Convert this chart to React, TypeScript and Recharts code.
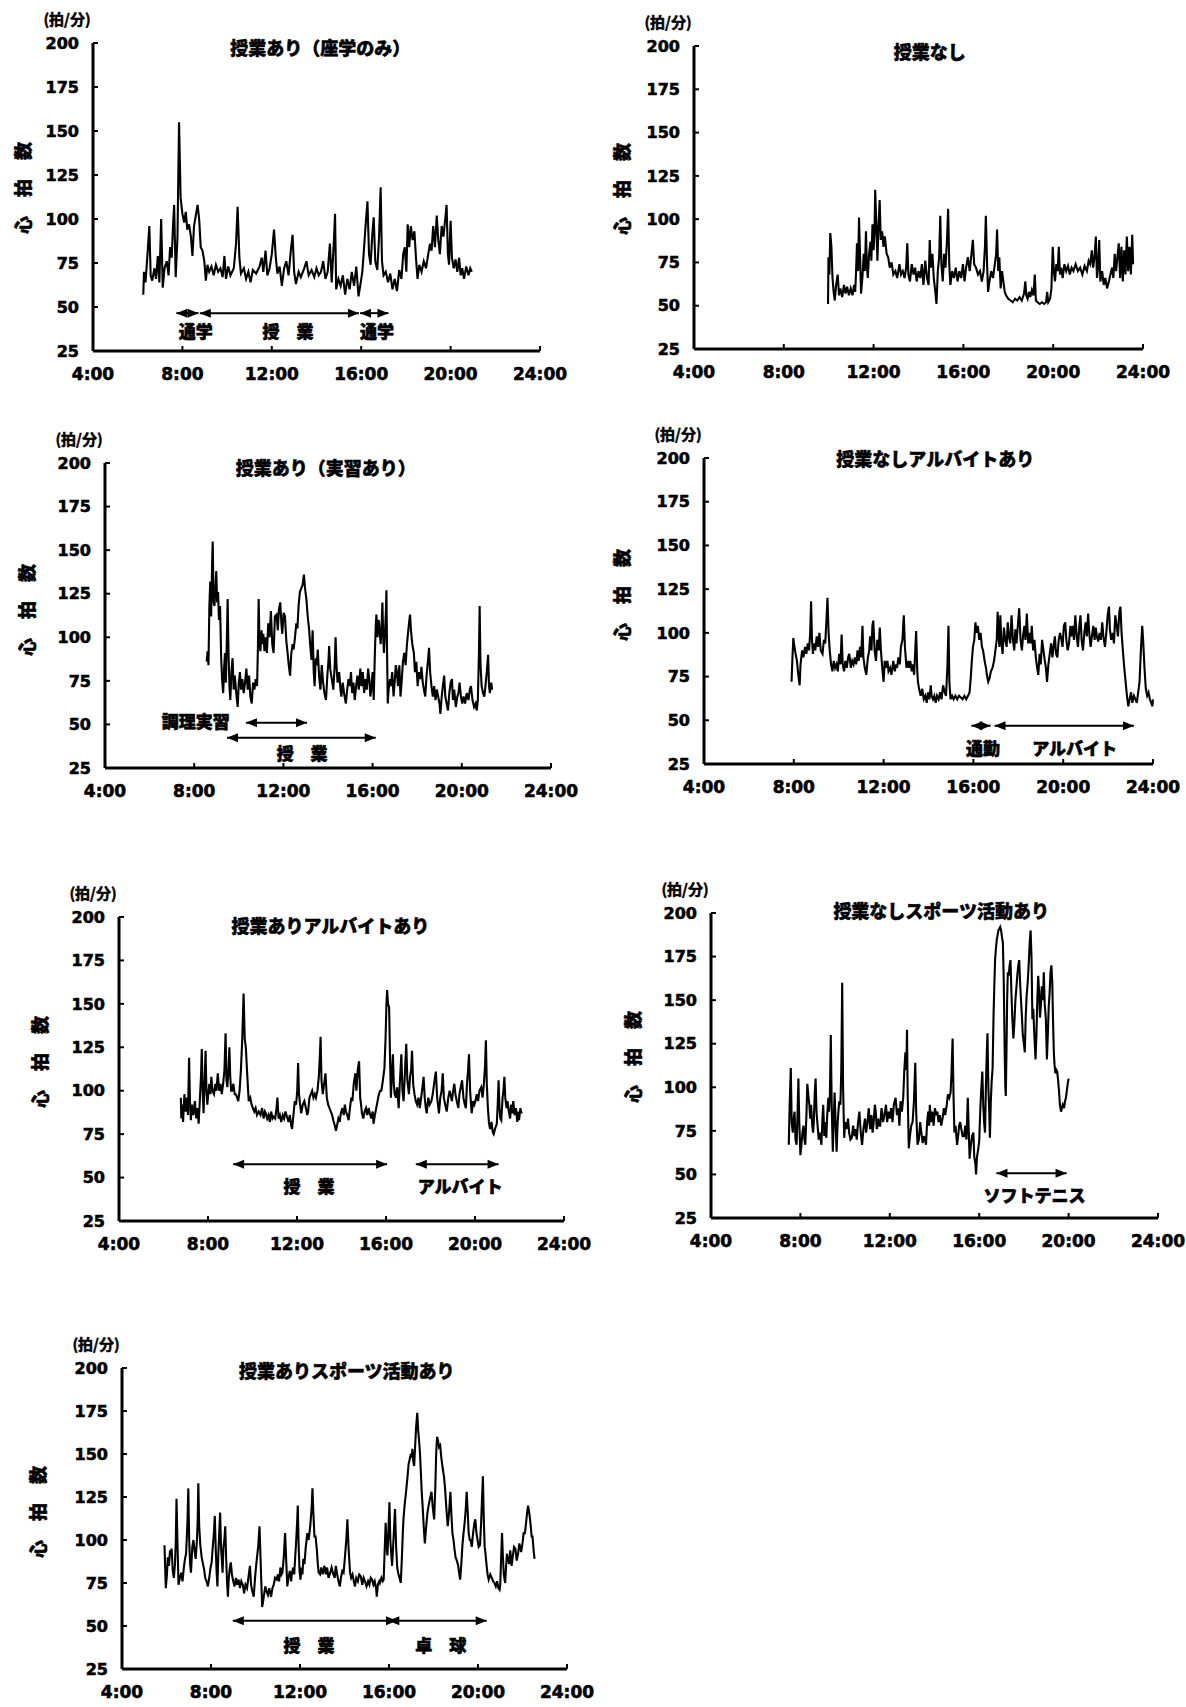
import React from 'react';
import { LineChart, Line, XAxis, YAxis, ReferenceLine, ReferenceDot } from 'recharts';

type Pt = [number, number];
type Span = [number, number, number];
type Note = [number, number, string];

const xTicks = [4, 8, 12, 16, 20, 24];
const yTicks = [25, 50, 75, 100, 125, 150, 175, 200];

const panelTitles = [
  '授業あり（座学のみ）',
  '授業なし',
  '授業あり（実習あり）',
  '授業なしアルバイトあり',
  '授業ありアルバイトあり',
  '授業なしスポーツ活動あり',
  '授業ありスポーツ活動あり',
];

// heart rate readings: [hour of day, beats per minute]
const p1Hr: Pt[] = [
  [6.25,57],[6.28,70],[6.35,64],[6.45,82],[6.52,96],[6.58,68],[6.65,65],[6.75,72],[6.82,66],[6.9,79],[6.97,64],[7.05,100],[7.12,61],[7.2,72],[7.3,76],[7.38,68],[7.45,84],[7.52,78],[7.58,96],[7.63,108],[7.7,67],[7.78,90],[7.85,155],[7.92,112],[8.0,103],[8.08,98],[8.15,104],[8.22,94],[8.3,97],[8.38,90],[8.45,79],[8.52,96],[8.6,102],[8.68,108],[8.75,100],[8.82,84],[8.9,82],[8.98,76],[9.05,65],[9.12,74],[9.2,70],[9.3,73],[9.4,68],[9.5,74],[9.6,70],[9.7,72],[9.8,67],[9.88,79],[9.95,66],[10.05,73],[10.15,68],[10.3,72],[10.4,86],[10.47,107],[10.55,78],[10.62,69],[10.75,72],[10.85,66],[10.95,70],[11.05,64],[11.15,71],[11.3,69],[11.45,73],[11.55,78],[11.62,70],[11.72,82],[11.8,68],[11.9,72],[12.0,80],[12.1,94],[12.18,78],[12.25,69],[12.35,73],[12.45,62],[12.55,72],[12.65,76],[12.75,68],[12.85,82],[12.93,91],[13.0,70],[13.08,63],[13.2,70],[13.3,67],[13.45,72],[13.55,76],[13.65,68],[13.78,71],[13.9,67],[14.0,72],[14.1,68],[14.2,70],[14.3,76],[14.4,66],[14.5,70],[14.6,86],[14.68,64],[14.78,88],[14.83,103],[14.88,60],[14.98,66],[15.08,62],[15.18,68],[15.28,57],[15.38,66],[15.48,60],[15.58,70],[15.68,62],[15.78,73],[15.88,56],[15.98,64],[16.05,70],[16.12,82],[16.2,97],[16.28,110],[16.35,80],[16.42,74],[16.5,92],[16.56,101],[16.63,76],[16.72,71],[16.8,90],[16.87,118],[16.93,76],[17.0,68],[17.1,70],[17.2,64],[17.3,69],[17.4,60],[17.5,66],[17.6,59],[17.7,71],[17.8,66],[17.88,80],[17.95,84],[18.02,70],[18.08,97],[18.15,84],[18.22,96],[18.3,88],[18.38,93],[18.45,78],[18.52,66],[18.6,74],[18.7,70],[18.8,76],[18.9,72],[19.0,80],[19.08,86],[19.15,82],[19.22,96],[19.3,84],[19.38,102],[19.45,88],[19.52,80],[19.6,96],[19.68,90],[19.76,100],[19.82,108],[19.88,80],[19.93,74],[20.0,99],[20.06,78],[20.14,72],[20.22,77],[20.3,70],[20.38,78],[20.45,68],[20.52,72],[20.6,66],[20.7,73],[20.8,68],[20.88,72],[20.95,70],
];

const p2Hr: Pt[] = [
  [9.97,51],[9.99,78],[10.03,68],[10.07,92],[10.12,84],[10.17,66],[10.22,58],[10.27,53],[10.33,62],[10.4,68],[10.46,56],[10.52,60],[10.6,55],[10.68,62],[10.75,57],[10.82,61],[10.9,56],[10.98,60],[11.06,56],[11.13,62],[11.18,58],[11.22,70],[11.26,86],[11.31,70],[11.35,101],[11.4,78],[11.44,57],[11.5,66],[11.56,80],[11.61,70],[11.66,93],[11.7,74],[11.74,66],[11.8,80],[11.86,87],[11.9,76],[11.95,97],[12.0,82],[12.04,92],[12.07,117],[12.12,98],[12.17,76],[12.22,96],[12.27,111],[12.32,88],[12.38,93],[12.44,84],[12.5,90],[12.58,80],[12.65,78],[12.72,72],[12.8,75],[12.88,68],[12.97,70],[13.05,66],[13.15,74],[13.22,68],[13.3,70],[13.38,66],[13.45,72],[13.5,86],[13.55,68],[13.62,64],[13.7,74],[13.78,68],[13.85,72],[13.92,64],[14.0,70],[14.08,66],[14.15,74],[14.22,62],[14.3,76],[14.38,66],[14.45,62],[14.5,88],[14.55,72],[14.62,80],[14.68,66],[14.75,58],[14.8,51],[14.86,70],[14.92,78],[14.97,102],[15.02,74],[15.08,64],[15.14,80],[15.2,72],[15.27,88],[15.32,106],[15.37,74],[15.42,62],[15.5,70],[15.58,66],[15.66,72],[15.74,64],[15.82,70],[15.9,66],[15.98,74],[16.05,64],[16.12,72],[16.2,78],[16.28,70],[16.36,80],[16.42,88],[16.48,74],[16.56,72],[16.65,68],[16.74,70],[16.82,64],[16.9,70],[16.96,84],[17.0,102],[17.05,76],[17.1,58],[17.16,64],[17.24,70],[17.32,66],[17.4,74],[17.46,80],[17.5,94],[17.55,70],[17.6,78],[17.66,60],[17.72,70],[17.78,64],[17.84,58],[17.9,56],[18.0,54],[18.1,53],[18.2,52],[18.3,54],[18.4,53],[18.5,55],[18.6,53],[18.7,57],[18.76,64],[18.8,56],[18.86,54],[18.92,58],[18.98,55],[19.05,59],[19.12,56],[19.18,68],[19.23,53],[19.3,52],[19.4,51],[19.5,52],[19.6,51],[19.68,52],[19.73,58],[19.78,52],[19.86,54],[19.92,60],[19.98,84],[20.03,70],[20.08,64],[20.14,74],[20.2,70],[20.25,84],[20.3,68],[20.36,72],[20.42,66],[20.5,74],[20.58,70],[20.66,73],[20.74,68],[20.82,72],[20.9,70],[21.0,74],[21.1,70],[21.2,72],[21.3,68],[21.4,73],[21.5,70],[21.58,76],[21.65,74],[21.72,82],[21.78,72],[21.84,78],[21.9,90],[21.95,66],[22.0,72],[22.05,88],[22.1,64],[22.18,70],[22.25,62],[22.32,66],[22.4,60],[22.48,64],[22.55,68],[22.62,72],[22.68,66],[22.74,80],[22.8,70],[22.86,78],[22.92,86],[22.98,66],[23.04,84],[23.1,64],[23.16,82],[23.22,68],[23.28,90],[23.34,70],[23.4,84],[23.46,68],[23.52,91],[23.56,74],
];

const p3Hr: Pt[] = [
  [8.56,86],[8.6,92],[8.64,84],[8.68,118],[8.72,132],[8.76,112],[8.8,140],[8.83,155],[8.87,120],[8.91,118],[8.95,128],[8.99,138],[9.03,120],[9.07,126],[9.11,110],[9.16,118],[9.21,88],[9.25,76],[9.3,68],[9.34,82],[9.38,91],[9.42,74],[9.46,96],[9.5,122],[9.54,90],[9.58,72],[9.62,64],[9.67,80],[9.72,88],[9.77,70],[9.82,78],[9.86,72],[9.9,66],[9.95,60],[10.0,74],[10.05,80],[10.1,70],[10.16,76],[10.22,68],[10.28,74],[10.34,82],[10.4,70],[10.46,78],[10.52,66],[10.58,62],[10.64,74],[10.7,70],[10.76,76],[10.82,72],[10.86,96],[10.89,122],[10.93,96],[10.97,92],[11.02,104],[11.06,96],[11.1,102],[11.15,92],[11.2,100],[11.26,91],[11.32,108],[11.38,100],[11.44,115],[11.5,96],[11.56,91],[11.62,112],[11.69,113],[11.75,104],[11.8,116],[11.86,120],[11.91,108],[11.95,102],[12.01,114],[12.07,112],[12.13,98],[12.18,92],[12.24,84],[12.3,78],[12.35,90],[12.41,96],[12.46,93],[12.52,100],[12.58,108],[12.63,105],[12.68,118],[12.74,126],[12.8,128],[12.86,130],[12.92,136],[12.97,128],[13.03,122],[13.09,112],[13.15,105],[13.2,96],[13.26,87],[13.31,104],[13.36,80],[13.4,72],[13.45,88],[13.5,84],[13.54,93],[13.6,78],[13.66,70],[13.72,84],[13.78,74],[13.84,68],[13.91,64],[13.97,78],[14.02,86],[14.05,95],[14.1,82],[14.17,76],[14.24,70],[14.3,84],[14.34,100],[14.38,84],[14.43,74],[14.5,80],[14.56,70],[14.6,66],[14.66,74],[14.72,68],[14.8,62],[14.86,70],[14.92,76],[14.98,72],[15.03,80],[15.08,68],[15.14,74],[15.2,64],[15.26,72],[15.32,78],[15.38,70],[15.45,82],[15.5,72],[15.56,80],[15.62,68],[15.68,76],[15.74,70],[15.8,82],[15.85,76],[15.9,66],[15.95,72],[16.0,80],[16.05,64],[16.1,90],[16.14,106],[16.17,113],[16.22,100],[16.27,110],[16.31,105],[16.36,96],[16.4,106],[16.44,120],[16.48,98],[16.51,91],[16.56,104],[16.6,116],[16.62,127],[16.65,90],[16.68,62],[16.72,70],[16.78,76],[16.82,72],[16.88,80],[16.94,66],[17.0,76],[17.04,84],[17.08,81],[17.14,72],[17.2,84],[17.25,66],[17.3,74],[17.36,86],[17.42,91],[17.48,84],[17.54,96],[17.6,104],[17.65,110],[17.68,113],[17.72,104],[17.78,96],[17.85,91],[17.9,80],[17.96,86],[18.02,72],[18.08,80],[18.14,76],[18.19,83],[18.25,74],[18.3,70],[18.36,66],[18.42,78],[18.48,86],[18.53,94],[18.58,80],[18.64,72],[18.7,66],[18.76,72],[18.82,64],[18.88,70],[18.94,66],[19.0,62],[19.04,56],[19.1,66],[19.15,72],[19.21,78],[19.26,66],[19.32,62],[19.38,58],[19.44,68],[19.5,74],[19.56,76],[19.6,64],[19.66,70],[19.73,60],[19.8,66],[19.85,68],[19.9,74],[19.96,66],[20.02,62],[20.08,66],[20.15,62],[20.22,68],[20.3,64],[20.36,70],[20.41,72],[20.48,64],[20.55,60],[20.62,62],[20.67,58],[20.72,64],[20.77,92],[20.8,118],[20.84,84],[20.89,72],[20.95,68],[21.01,66],[21.06,72],[21.12,80],[21.18,90],[21.22,72],[21.26,68],[21.32,74],[21.36,70],
];

const p4Hr: Pt[] = [
  [7.9,72],[7.94,86],[7.98,97],[8.03,92],[8.08,88],[8.14,84],[8.2,76],[8.26,70],[8.3,82],[8.37,90],[8.43,86],[8.5,92],[8.56,88],[8.62,94],[8.68,90],[8.73,100],[8.77,118],[8.81,96],[8.85,88],[8.9,94],[8.96,90],[9.02,98],[9.08,92],[9.14,100],[9.2,90],[9.28,88],[9.34,96],[9.4,94],[9.45,106],[9.5,120],[9.55,100],[9.6,90],[9.66,82],[9.72,78],[9.78,84],[9.84,80],[9.9,82],[9.96,78],[10.02,88],[10.08,82],[10.13,99],[10.18,82],[10.24,78],[10.3,84],[10.36,80],[10.42,86],[10.47,88],[10.54,80],[10.6,84],[10.66,82],[10.72,86],[10.78,82],[10.84,90],[10.89,84],[10.95,92],[11.0,86],[11.06,104],[11.1,86],[11.16,80],[11.23,76],[11.3,86],[11.36,90],[11.4,98],[11.46,90],[11.5,104],[11.54,107],[11.6,90],[11.66,84],[11.72,96],[11.78,90],[11.83,103],[11.88,90],[11.94,80],[12.0,72],[12.05,84],[12.1,80],[12.17,84],[12.22,78],[12.29,80],[12.35,76],[12.43,84],[12.5,78],[12.56,82],[12.6,80],[12.66,86],[12.72,82],[12.77,92],[12.84,96],[12.9,110],[12.95,92],[13.02,80],[13.08,84],[13.14,80],[13.19,84],[13.25,78],[13.3,82],[13.36,76],[13.41,90],[13.45,101],[13.5,78],[13.53,72],[13.58,68],[13.65,64],[13.72,68],[13.79,62],[13.86,64],[13.92,60],[13.98,66],[14.04,62],[14.1,70],[14.14,64],[14.2,62],[14.26,64],[14.32,60],[14.38,64],[14.45,62],[14.52,66],[14.58,62],[14.65,70],[14.72,66],[14.78,64],[14.84,80],[14.89,104],[14.93,72],[14.98,62],[15.05,64],[15.12,62],[15.2,64],[15.28,62],[15.36,64],[15.44,63],[15.52,62],[15.6,64],[15.68,62],[15.76,64],[15.83,66],[15.88,74],[15.93,84],[15.98,92],[16.04,96],[16.09,106],[16.14,100],[16.2,104],[16.26,96],[16.32,100],[16.38,92],[16.43,90],[16.5,84],[16.56,80],[16.6,76],[16.66,72],[16.72,74],[16.78,78],[16.85,80],[16.92,84],[16.98,90],[17.04,96],[17.08,112],[17.12,100],[17.16,92],[17.2,110],[17.24,96],[17.3,88],[17.36,103],[17.42,96],[17.48,92],[17.53,106],[17.58,98],[17.64,94],[17.7,110],[17.76,96],[17.82,90],[17.87,102],[17.92,94],[17.98,104],[18.04,114],[18.1,96],[18.16,90],[18.21,98],[18.27,104],[18.32,96],[18.38,111],[18.44,94],[18.5,100],[18.55,94],[18.6,104],[18.66,90],[18.72,96],[18.78,86],[18.84,80],[18.89,76],[18.95,88],[19.0,82],[19.06,96],[19.12,90],[19.18,84],[19.23,80],[19.28,72],[19.34,82],[19.4,88],[19.46,94],[19.52,86],[19.57,92],[19.63,98],[19.68,88],[19.74,86],[19.8,96],[19.86,100],[19.91,97],[19.97,92],[20.03,104],[20.09,106],[20.14,96],[20.2,90],[20.26,94],[20.32,104],[20.38,98],[20.43,104],[20.48,96],[20.54,110],[20.6,98],[20.66,92],[20.72,104],[20.77,110],[20.82,96],[20.88,90],[20.94,100],[21.0,106],[21.05,98],[21.11,111],[21.16,100],[21.22,92],[21.28,98],[21.34,104],[21.4,96],[21.45,103],[21.5,98],[21.56,95],[21.62,100],[21.68,96],[21.74,106],[21.79,98],[21.86,92],[21.92,100],[21.98,110],[22.04,115],[22.08,102],[22.14,96],[22.21,100],[22.26,94],[22.32,110],[22.38,104],[22.44,98],[22.5,112],[22.55,115],[22.6,100],[22.67,88],[22.72,80],[22.78,72],[22.84,64],[22.9,58],[22.96,62],[23.02,66],[23.08,60],[23.15,64],[23.22,62],[23.28,60],[23.34,66],[23.4,72],[23.46,90],[23.52,104],[23.56,96],[23.62,80],[23.68,68],[23.74,64],[23.8,66],[23.86,62],[23.92,60],[23.97,58],[24.0,62],
];

const p5Hr: Pt[] = [
  [6.78,96],[6.8,84],[6.84,92],[6.88,82],[6.94,98],[7.0,88],[7.06,96],[7.1,86],[7.15,119],[7.19,94],[7.23,83],[7.28,92],[7.34,86],[7.41,94],[7.47,84],[7.52,90],[7.58,81],[7.64,96],[7.69,110],[7.72,124],[7.76,100],[7.8,87],[7.85,106],[7.89,123],[7.93,100],[7.97,92],[8.01,98],[8.06,104],[8.11,98],[8.15,108],[8.2,100],[8.27,98],[8.33,104],[8.38,100],[8.44,110],[8.5,100],[8.56,104],[8.62,98],[8.68,104],[8.74,112],[8.79,133],[8.83,106],[8.87,102],[8.92,112],[8.96,125],[9.0,108],[9.04,100],[9.08,100],[9.14,104],[9.2,98],[9.25,98],[9.31,96],[9.36,94],[9.42,100],[9.48,112],[9.54,130],[9.6,156],[9.65,130],[9.7,125],[9.76,110],[9.83,94],[9.9,96],[9.96,92],[10.02,90],[10.08,88],[10.14,90],[10.2,86],[10.28,88],[10.36,86],[10.43,90],[10.5,84],[10.56,88],[10.6,87],[10.66,84],[10.72,86],[10.78,82],[10.84,88],[10.9,84],[10.95,85],[11.02,84],[11.08,90],[11.12,96],[11.17,84],[11.23,86],[11.29,82],[11.36,86],[11.42,84],[11.48,88],[11.55,85],[11.62,82],[11.68,86],[11.74,80],[11.78,78],[11.84,86],[11.9,94],[11.96,92],[12.01,100],[12.05,116],[12.09,98],[12.14,92],[12.19,87],[12.26,92],[12.33,94],[12.4,90],[12.46,86],[12.5,88],[12.56,96],[12.62,98],[12.68,100],[12.74,96],[12.8,98],[12.85,96],[12.92,100],[12.98,108],[13.02,118],[13.06,131],[13.1,106],[13.16,98],[13.22,104],[13.28,110],[13.34,96],[13.4,92],[13.46,90],[13.52,88],[13.58,86],[13.63,83],[13.7,80],[13.75,77],[13.8,80],[13.86,84],[13.92,82],[13.97,87],[14.04,90],[14.1,86],[14.15,92],[14.2,88],[14.26,86],[14.32,83],[14.38,90],[14.44,96],[14.49,94],[14.55,104],[14.62,110],[14.67,100],[14.73,112],[14.79,117],[14.84,96],[14.88,92],[14.92,87],[14.98,84],[15.04,88],[15.1,90],[15.16,86],[15.22,90],[15.27,87],[15.34,84],[15.4,88],[15.44,81],[15.5,86],[15.56,90],[15.62,94],[15.68,98],[15.74,100],[15.79,100],[15.84,104],[15.88,108],[15.93,113],[15.98,130],[16.02,150],[16.05,158],[16.09,150],[16.14,148],[16.18,120],[16.22,96],[16.26,108],[16.31,121],[16.35,104],[16.39,98],[16.45,96],[16.5,102],[16.57,90],[16.62,104],[16.69,121],[16.74,100],[16.79,94],[16.85,110],[16.91,127],[16.96,106],[17.03,98],[17.08,108],[17.13,112],[17.17,123],[17.22,104],[17.28,98],[17.34,94],[17.4,92],[17.46,96],[17.52,90],[17.58,96],[17.64,102],[17.69,108],[17.74,96],[17.79,90],[17.83,87],[17.9,96],[17.96,92],[18.04,94],[18.1,98],[18.16,104],[18.24,111],[18.3,96],[18.38,87],[18.44,96],[18.5,100],[18.55,110],[18.6,96],[18.66,92],[18.73,88],[18.8,96],[18.86,100],[18.9,98],[18.96,94],[19.02,100],[19.07,104],[19.12,98],[19.18,94],[19.25,90],[19.3,98],[19.36,102],[19.42,106],[19.48,96],[19.54,92],[19.59,90],[19.64,104],[19.69,112],[19.73,121],[19.78,100],[19.85,87],[19.92,94],[19.97,92],[20.02,94],[20.08,98],[20.14,94],[20.2,100],[20.28,102],[20.34,96],[20.4,104],[20.45,114],[20.49,129],[20.53,104],[20.58,90],[20.63,81],[20.68,78],[20.74,82],[20.8,76],[20.84,75],[20.9,78],[20.98,81],[21.02,92],[21.06,106],[21.1,90],[21.14,84],[21.18,83],[21.24,96],[21.28,100],[21.32,108],[21.36,96],[21.42,90],[21.46,94],[21.52,88],[21.58,84],[21.62,92],[21.67,87],[21.72,94],[21.78,86],[21.84,90],[21.9,82],[21.94,88],[21.98,83],[22.04,90],[22.08,87],[22.1,88],
];

const p6Hr: Pt[] = [
  [7.48,67],[7.52,90],[7.57,111],[7.61,80],[7.66,74],[7.7,82],[7.74,86],[7.78,70],[7.83,67],[7.87,84],[7.91,105],[7.95,80],[8.0,61],[8.04,66],[8.09,74],[8.14,78],[8.18,70],[8.22,67],[8.27,84],[8.31,102],[8.35,96],[8.4,90],[8.44,82],[8.48,90],[8.53,78],[8.57,74],[8.6,80],[8.64,96],[8.68,105],[8.72,86],[8.77,78],[8.82,70],[8.87,74],[8.94,67],[8.98,80],[9.02,90],[9.07,72],[9.12,80],[9.16,71],[9.2,84],[9.25,94],[9.28,86],[9.32,96],[9.36,130],[9.4,90],[9.45,63],[9.49,80],[9.53,97],[9.58,78],[9.62,63],[9.66,78],[9.7,86],[9.74,92],[9.79,90],[9.83,110],[9.87,160],[9.91,100],[9.96,71],[10.0,80],[10.06,76],[10.13,82],[10.18,74],[10.24,70],[10.3,71],[10.36,78],[10.42,72],[10.47,76],[10.52,70],[10.58,80],[10.64,86],[10.7,74],[10.76,67],[10.82,76],[10.89,82],[10.94,74],[11.0,80],[11.06,88],[11.12,76],[11.18,84],[11.23,74],[11.28,80],[11.33,90],[11.37,86],[11.42,76],[11.48,82],[11.52,78],[11.57,78],[11.63,88],[11.7,80],[11.76,84],[11.83,90],[11.88,80],[11.94,86],[12.0,82],[12.06,88],[12.12,80],[12.18,90],[12.26,94],[12.32,84],[12.38,88],[12.43,78],[12.48,92],[12.54,86],[12.6,94],[12.65,110],[12.7,120],[12.74,110],[12.77,133],[12.8,96],[12.85,65],[12.9,72],[12.96,78],[13.02,80],[13.08,92],[13.14,114],[13.18,86],[13.24,67],[13.3,70],[13.36,80],[13.41,74],[13.47,68],[13.53,72],[13.58,70],[13.62,67],[13.67,80],[13.72,86],[13.76,78],[13.79,90],[13.84,80],[13.9,86],[13.96,78],[14.02,88],[14.08,84],[14.13,86],[14.18,80],[14.24,84],[14.3,78],[14.36,82],[14.42,88],[14.48,84],[14.55,90],[14.6,96],[14.66,94],[14.72,97],[14.76,108],[14.81,128],[14.85,96],[14.89,74],[14.94,78],[15.01,67],[15.06,72],[15.1,78],[15.15,80],[15.2,76],[15.26,72],[15.32,72],[15.38,78],[15.43,70],[15.49,94],[15.53,76],[15.57,59],[15.62,66],[15.68,72],[15.74,74],[15.78,60],[15.83,56],[15.86,50],[15.9,60],[15.95,64],[16.0,69],[16.04,84],[16.08,96],[16.14,109],[16.18,90],[16.22,80],[16.26,74],[16.3,100],[16.34,120],[16.37,131],[16.41,100],[16.45,86],[16.48,71],[16.52,92],[16.56,104],[16.6,111],[16.64,140],[16.68,160],[16.71,173],[16.75,180],[16.79,185],[16.82,187],[16.86,190],[16.9,191],[16.94,192],[16.98,190],[17.02,186],[17.06,183],[17.1,160],[17.14,120],[17.17,100],[17.19,95],[17.22,120],[17.25,150],[17.28,166],[17.32,164],[17.36,170],[17.4,173],[17.44,155],[17.48,140],[17.53,128],[17.57,136],[17.62,150],[17.67,158],[17.71,165],[17.75,170],[17.79,173],[17.83,160],[17.87,150],[17.91,141],[17.95,130],[18.0,125],[18.04,120],[18.08,140],[18.12,152],[18.18,162],[18.22,172],[18.26,183],[18.3,190],[18.34,175],[18.38,139],[18.42,145],[18.46,132],[18.52,116],[18.56,130],[18.6,150],[18.64,164],[18.68,155],[18.72,140],[18.76,147],[18.8,158],[18.85,150],[18.89,166],[18.93,148],[18.98,140],[19.03,116],[19.07,130],[19.11,146],[19.15,154],[19.19,166],[19.23,170],[19.27,160],[19.3,140],[19.34,120],[19.37,113],[19.41,108],[19.45,110],[19.49,109],[19.53,104],[19.57,98],[19.61,90],[19.66,86],[19.7,88],[19.74,90],[19.8,88],[19.84,92],[19.88,94],[19.92,98],[19.96,102],[20.0,105],
];

const p7Hr: Pt[] = [
  [5.91,97],[5.94,84],[5.97,72],[6.02,80],[6.06,90],[6.11,85],[6.16,94],[6.2,92],[6.23,95],[6.28,82],[6.33,78],[6.38,86],[6.42,100],[6.45,124],[6.49,100],[6.54,74],[6.6,78],[6.66,81],[6.72,76],[6.78,84],[6.83,89],[6.88,92],[6.94,110],[6.98,130],[7.02,100],[7.06,86],[7.1,81],[7.16,96],[7.21,100],[7.26,94],[7.31,89],[7.36,98],[7.4,110],[7.43,133],[7.47,108],[7.52,97],[7.58,90],[7.64,86],[7.69,83],[7.74,78],[7.8,76],[7.86,73],[7.92,78],[7.98,84],[8.03,87],[8.08,96],[8.13,104],[8.17,114],[8.21,96],[8.25,82],[8.29,73],[8.33,92],[8.37,104],[8.41,116],[8.45,96],[8.49,88],[8.52,81],[8.56,96],[8.6,100],[8.64,108],[8.68,90],[8.72,76],[8.76,67],[8.8,78],[8.85,84],[8.89,87],[8.94,80],[9.0,76],[9.06,73],[9.12,78],[9.18,74],[9.24,77],[9.3,72],[9.36,76],[9.43,74],[9.49,69],[9.55,74],[9.62,72],[9.68,78],[9.75,85],[9.8,74],[9.86,70],[9.92,67],[9.98,78],[10.02,84],[10.06,89],[10.12,96],[10.18,108],[10.22,92],[10.26,76],[10.3,61],[10.36,66],[10.44,73],[10.5,70],[10.56,68],[10.62,72],[10.7,67],[10.76,72],[10.82,74],[10.88,78],[10.95,77],[11.0,80],[11.06,76],[11.12,84],[11.17,80],[11.21,81],[11.27,90],[11.33,104],[11.38,88],[11.43,73],[11.48,78],[11.54,82],[11.6,76],[11.64,81],[11.7,84],[11.74,80],[11.78,89],[11.83,100],[11.87,110],[11.9,120],[11.94,96],[11.98,82],[12.02,77],[12.07,84],[12.11,80],[12.15,89],[12.2,86],[12.26,96],[12.33,104],[12.39,100],[12.46,108],[12.52,118],[12.56,130],[12.6,116],[12.65,102],[12.7,102],[12.76,94],[12.8,86],[12.84,81],[12.9,80],[12.96,84],[13.02,80],[13.1,85],[13.16,80],[13.22,84],[13.28,78],[13.36,81],[13.42,84],[13.5,80],[13.56,78],[13.61,85],[13.67,80],[13.73,76],[13.79,73],[13.84,78],[13.9,82],[13.96,81],[14.02,90],[14.08,100],[14.13,112],[14.18,96],[14.25,81],[14.3,78],[14.36,80],[14.42,76],[14.47,73],[14.53,78],[14.6,76],[14.66,80],[14.73,79],[14.8,74],[14.86,78],[14.92,76],[14.99,73],[15.06,76],[15.12,74],[15.18,78],[15.24,77],[15.3,74],[15.36,76],[15.42,72],[15.45,67],[15.5,74],[15.56,76],[15.59,75],[15.66,78],[15.72,76],[15.76,77],[15.8,92],[15.85,110],[15.89,96],[15.93,91],[15.97,104],[16.02,122],[16.06,100],[16.1,92],[16.14,85],[16.2,100],[16.27,118],[16.32,96],[16.37,84],[16.41,81],[16.47,78],[16.53,75],[16.58,90],[16.62,104],[16.65,112],[16.7,120],[16.75,126],[16.79,131],[16.84,138],[16.88,144],[16.93,147],[16.98,150],[17.02,148],[17.05,153],[17.09,146],[17.13,143],[17.18,156],[17.22,166],[17.27,174],[17.31,164],[17.35,158],[17.39,151],[17.43,140],[17.47,128],[17.51,120],[17.56,108],[17.61,98],[17.66,106],[17.7,112],[17.73,116],[17.78,120],[17.84,124],[17.91,128],[17.96,120],[18.03,112],[18.08,130],[18.12,150],[18.16,160],[18.2,158],[18.25,154],[18.3,155],[18.35,148],[18.41,142],[18.47,137],[18.52,130],[18.58,118],[18.64,108],[18.7,116],[18.76,128],[18.8,116],[18.85,104],[18.9,100],[18.94,95],[18.99,90],[19.05,88],[19.11,85],[19.16,80],[19.2,77],[19.25,86],[19.3,97],[19.35,104],[19.4,110],[19.45,118],[19.49,128],[19.54,116],[19.58,104],[19.63,100],[19.67,100],[19.72,96],[19.78,104],[19.84,110],[19.88,112],[19.93,104],[19.98,100],[20.03,96],[20.09,97],[20.14,110],[20.18,124],[20.22,137],[20.26,112],[20.3,96],[20.33,93],[20.38,86],[20.43,80],[20.48,77],[20.55,80],[20.62,78],[20.68,76],[20.74,75],[20.8,73],[20.86,76],[20.92,72],[20.97,71],[21.0,74],[21.04,90],[21.08,104],[21.12,90],[21.16,80],[21.22,75],[21.26,84],[21.3,92],[21.34,89],[21.4,86],[21.45,94],[21.51,85],[21.56,90],[21.62,96],[21.68,95],[21.74,88],[21.8,92],[21.86,98],[21.94,93],[22.0,98],[22.05,104],[22.11,104],[22.16,110],[22.21,116],[22.25,120],[22.3,116],[22.34,112],[22.37,108],[22.41,102],[22.45,102],[22.5,94],[22.54,89],
];

// activity periods: [start hour, end hour, bpm level of the arrow]
const p1Arrows: Span[] = [[7.73, 8.72, 46.5], [8.78, 15.9, 46.5], [15.95, 17.22, 46.5]];
const p3Arrows: Span[] = [[10.32, 13.06, 51], [9.47, 16.14, 42.3]];
const p4Arrows: Span[] = [[15.91, 16.77, 46.9], [16.94, 23.15, 46.9]];
const p5Arrows: Span[] = [[9.13, 16.05, 57.7], [17.34, 21.06, 57.7]];
const p6Arrows: Span[] = [[16.77, 19.91, 50.7]];
const p7Arrows: Span[] = [[8.98, 16.36, 53], [15.97, 20.39, 53]];

// activity labels: [hour, bpm, text]
const p1Notes: Note[] = [[8.6, 36.4, '通学'], [12.73, 36.4, '授　業'], [16.71, 36.4, '通学']];
const p3Notes: Note[] = [[8.07, 52, '調理実習'], [12.84, 33.7, '授　業']];
const p4Notes: Note[] = [[16.43, 34.5, '通勤'], [20.51, 34.5, 'アルバイト']];
const p5Notes: Note[] = [[12.54, 45.2, '授　業'], [19.33, 45.2, 'アルバイト']];
const p6Notes: Note[] = [[18.47, 38.3, 'ソフトテニス']];
const p7Notes: Note[] = [[12.41, 39.5, '授　業'], [18.33, 39.5, '卓　球']];

const panelSeries = [p1Hr, p2Hr, p3Hr, p4Hr, p5Hr, p6Hr, p7Hr];
const panelArrows = [p1Arrows, [], p3Arrows, p4Arrows, p5Arrows, p6Arrows, p7Arrows];
const panelNotes = [p1Notes, [], p3Notes, p4Notes, p5Notes, p6Notes, p7Notes];

// layout: plot area [left, top, right, bottom] in page pixels
const plotBoxes = [
  [93, 43, 540, 351],
  [694, 46, 1143, 349],
  [105, 463, 551, 768],
  [704, 458, 1153, 764],
  [119, 917, 564, 1221],
  [711, 913, 1158, 1218],
  [122, 1368, 567, 1669],
];
const titleHour = [14.17, 14.5, 13.9, 14.3, 13.5, 14.3, 14.1];
const titleDy = [4, 5, 4, 0, 8, -3, 2];
const yLabelPos = [[22, 188], [621, 189], [26, 610], [621, 595], [39, 1062], [632, 1057], [37, 1512]];

const JP = '"Noto Sans CJK JP", "Noto Sans CJK SC", sans-serif';
const NUM = '"DejaVu Sans", "Liberation Sans", Arial, sans-serif';

const headShape = (dir: number) => (props: any) => {
  const { cx, cy } = props;
  if (cx == null || cy == null) return <g />;
  const b = cx - dir * 11;
  return <polygon points={`${cx},${cy} ${b},${cy - 4.5} ${b},${cy + 4.5}`} fill="#000" />;
};

const noteShape = (text: string) => (props: any) => {
  const { cx, cy } = props;
  if (cx == null || cy == null) return <g />;
  return (
    <text x={cx} y={cy} textAnchor="middle" dominantBaseline="central"
      fontFamily={JP} fontWeight={900} fontSize={17} fill="#000"
      stroke="#000" strokeWidth={0.6}>{text}</text>
  );
};

const PAD_TOP = 12;
const PAD_RIGHT = 40;
const AXIS_W = 80;
const AXIS_H = 45;

const heavyText = { WebkitTextStroke: '0.5px #000' } as React.CSSProperties;

function Panel({ i }: { i: number }) {
  const [L, T, R, B] = plotBoxes[i];
  const w = R - L + AXIS_W + PAD_RIGHT;
  const h = B - T + PAD_TOP + AXIS_H;
  const rows = panelSeries[i].map(([t, v]) => ({ t, v }));
  const titleX = L + ((titleHour[i] - 4) / 20) * (R - L);
  const [yx, yy] = yLabelPos[i];

  return (
    <>
      <div style={{ position: 'absolute', left: L - AXIS_W, top: T - PAD_TOP }}>
        <LineChart width={w} height={h} data={rows}
          margin={{ top: PAD_TOP, right: PAD_RIGHT, bottom: 0, left: 0 }}>
          <XAxis dataKey="t" type="number" domain={[4, 24]} ticks={xTicks} interval={0}
            tickFormatter={(v) => `${v}:00`} height={AXIS_H}
            axisLine={{ stroke: '#000', strokeWidth: 3 }}
            tickLine={{ stroke: '#000', strokeWidth: 2 }}
            tickSize={-5} tickMargin={22}
            tick={{ fontSize: 17, fontFamily: NUM, fontWeight: 700, fill: '#000', stroke: '#000', strokeWidth: 0.6 }} />
          <YAxis type="number" domain={[25, 200]} ticks={yTicks} interval={0} width={AXIS_W}
            axisLine={{ stroke: '#000', strokeWidth: 3 }}
            tickLine={{ stroke: '#000', strokeWidth: 2 }}
            tickSize={-5} tickMargin={19}
            tick={{ fontSize: 16, fontFamily: NUM, fontWeight: 700, fill: '#000', stroke: '#000', strokeWidth: 0.6 }} />
          {panelArrows[i].map(([a, b, y], k) => (
            <ReferenceLine key={`l${k}`} segment={[{ x: a, y }, { x: b, y }]}
              stroke="#000" strokeWidth={2} />
          ))}
          {panelArrows[i].map(([a, , y], k) => (
            <ReferenceDot key={`a${k}`} x={a} y={y} r={1} shape={headShape(-1)} />
          ))}
          {panelArrows[i].map(([, b, y], k) => (
            <ReferenceDot key={`b${k}`} x={b} y={y} r={1} shape={headShape(1)} />
          ))}
          {panelNotes[i].map(([t, y, text], k) => (
            <ReferenceDot key={`n${k}`} x={t} y={y} r={1} shape={noteShape(text)} />
          ))}
          <Line type="linear" dataKey="v" stroke="#000" strokeWidth={2.1} dot={false}
            activeDot={false} isAnimationActive={false} />
        </LineChart>
      </div>
      <div style={{
        position: 'absolute', left: L - 61, top: T - 35, width: 70, textAlign: 'center',
        fontFamily: JP, fontWeight: 700, fontSize: 15, lineHeight: '22px', ...heavyText,
      }}>(拍/分)</div>
      <div style={{
        position: 'absolute', left: titleX - 160, top: T + titleDy[i] - 13, width: 320,
        textAlign: 'center', fontFamily: JP, fontWeight: 900, fontSize: 18, lineHeight: '26px',
        ...heavyText,
      }}>{panelTitles[i]}</div>
      <div style={{
        position: 'absolute', left: yx - 70, top: yy - 12, width: 140, height: 24,
        lineHeight: '24px', textAlign: 'center', transform: 'rotate(-90deg)',
        fontFamily: JP, fontWeight: 900, fontSize: 18, letterSpacing: 19, paddingLeft: 19,
        boxSizing: 'border-box', ...heavyText,
      }}>心拍数</div>
    </>
  );
}

export default function App() {
  return (
    <div style={{
      position: 'absolute', left: 0, top: 0, width: 1186, height: 1707,
      background: '#fff', color: '#000', overflow: 'hidden',
    }}>
      {panelTitles.map((_, i) => <Panel key={i} i={i} />)}
    </div>
  );
}
